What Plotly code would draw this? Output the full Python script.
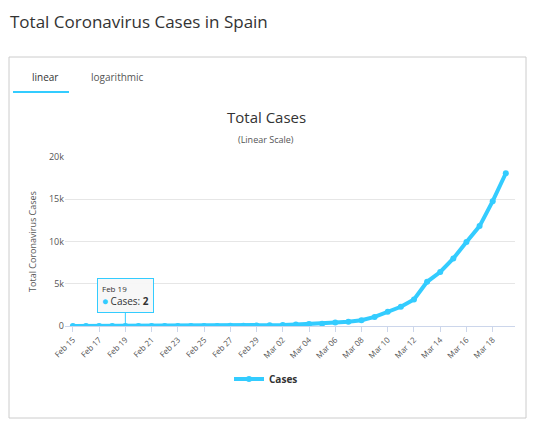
import plotly.graph_objects as go

dates = ["Feb 15", "Feb 16", "Feb 17", "Feb 18", "Feb 19", "Feb 20", "Feb 21", "Feb 22",
         "Feb 23", "Feb 24", "Feb 25", "Feb 26", "Feb 27", "Feb 28", "Feb 29", "Mar 01",
         "Mar 02", "Mar 03", "Mar 04", "Mar 05", "Mar 06", "Mar 07", "Mar 08", "Mar 09",
         "Mar 10", "Mar 11", "Mar 12", "Mar 13", "Mar 14", "Mar 15", "Mar 16", "Mar 17",
         "Mar 18", "Mar 19"]
cases = [2, 2, 2, 2, 2, 2, 2, 2, 2, 2, 6, 13, 15, 32, 45, 84, 120, 165, 222, 259,
         400, 500, 673, 1073, 1695, 2277, 3146, 5232, 6391, 7988, 9942, 11826, 14769, 18077]
ytick_vals = [0, 5000, 10000, 15000, 20000]
ytick_text = ["0", "5k", "10k", "15k", "20k"]

# page body has an 8px margin, so the figure is sized to fit inside it
OFF = 8
W, H = 527, 416
def px(x): return (x - OFF) / W
def py(y): return 1 - (y - OFF) / H

BLUE = "#33ccff"
font = "Open Sans, Lato, sans-serif"

fig = go.Figure()
fig.add_trace(go.Scatter(
    x=dates, y=cases, mode="lines+markers", name="<b>Cases</b>",
    line=dict(color=BLUE, width=4), marker=dict(color=BLUE, size=6),
))

fig.update_layout(
    width=W, height=H, margin=dict(l=0, r=0, t=0, b=0, autoexpand=False),
    paper_bgcolor="white", plot_bgcolor="white",
    font=dict(family=font, color="#333"),
    showlegend=True,
    legend=dict(orientation="h", x=px(266), xanchor="center", y=py(379), yanchor="middle",
                font=dict(size=10, color="#333"), itemwidth=30),
    xaxis=dict(domain=[px(65), px(515)], type="category", range=[-0.6, 33.7], automargin=False,
               tickvals=dates[::2], ticktext=dates[::2], tickangle=-45,
               tickfont=dict(size=8, color="#555"), showgrid=False,
               showline=True, linecolor="#ccd6eb", ticks="outside", ticklen=5, tickcolor="#ccd6eb"),
    yaxis=dict(domain=[py(326), py(157)], range=[0, 20000], automargin=False,
               tickvals=ytick_vals, ticktext=ytick_text, tickfont=dict(size=9, color="#555"),
               gridcolor="#e6e6e6", zeroline=False,
               title=dict(text="Total Coronavirus Cases", font=dict(size=9, color="#555"), standoff=10)),
)

# outer box and tab
fig.add_shape(type="rect", xref="paper", yref="paper", x0=px(9), x1=px(526), y0=py(418), y1=py(57),
              line=dict(color="#cccccc", width=1), fillcolor="rgba(0,0,0,0)")
fig.add_shape(type="line", xref="paper", yref="paper", x0=px(13), x1=px(69), y0=py(92), y1=py(92),
              line=dict(color=BLUE, width=2))

anns = [
    dict(text="Total Coronavirus Cases in Spain", x=px(8), y=py(22), size=17, color="#333"),
    dict(text="linear", x=px(30), y=py(77), size=10, color="#333"),
    dict(text="logarithmic", x=px(89), y=py(77), size=10, color="#555"),
]
for a in anns:
    fig.add_annotation(text=a["text"], xref="paper", yref="paper", x=a["x"], y=a["y"],
                       xanchor="left", yanchor="middle", showarrow=False,
                       font=dict(size=a["size"], color=a["color"], family=font))
fig.add_annotation(text="Total Cases", xref="paper", yref="paper", x=px(266), y=py(117),
                   yanchor="middle", showarrow=False, font=dict(size=15, color="#333", family=font))
fig.add_annotation(text="(Linear Scale)", xref="paper", yref="paper", x=px(266), y=py(139),
                   yanchor="middle", showarrow=False, font=dict(size=9, color="#555", family=font))

# tooltip
fig.add_annotation(text="<span style='font-size:8px'>Feb 19</span><br><span style='color:#33ccff'>●</span> Cases: <b>2</b>",
                   x=dates[4], y=cases[4], ax=0, ay=-30, showarrow=True, arrowcolor=BLUE, arrowhead=0,
                   align="left", bgcolor="rgba(247,247,247,0.95)", bordercolor=BLUE, borderwidth=1, borderpad=4,
                   font=dict(size=10, color="#333", family=font))

fig.write_html("out.html")
